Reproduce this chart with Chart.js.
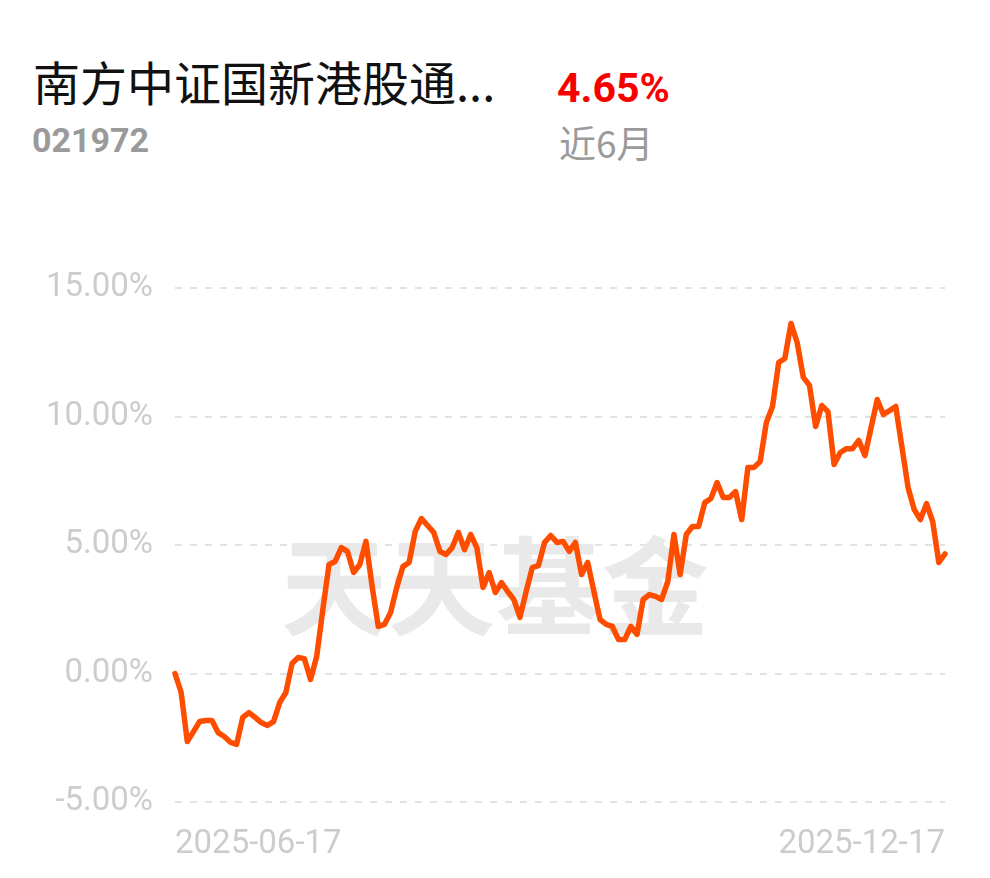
<!DOCTYPE html>
<html>
<head>
<meta charset="utf-8">
<script src="https://cdn.jsdelivr.net/npm/chart.js@4/dist/chart.umd.min.js"></script>
<style>
  html, body { margin: 0; padding: 0; background: #fff; }
  body { width: 990px; height: 878px; position: relative; overflow: hidden; }
  .t { position: absolute; white-space: nowrap; }
  #name { left: 33px; top: 57px; font: 47px/47px "Noto Sans CJK SC", sans-serif; color: #111; }
  #code { left: 32px; top: 123px; font: bold 34px/34px Roboto, sans-serif; color: #9a9a9a; }
  #ret { left: 557px; top: 68px; font: bold 41px/41px Roboto, sans-serif; color: #f80000; }
  #period { left: 559px; top: 124px; font: 37px/37px "Noto Sans CJK SC", sans-serif; color: #9a9a9a; }
  #box { position: absolute; left: 0; top: 240px; width: 990px; height: 638px; }
</style>
</head>
<body>
<div class="t" id="name">南方中证国新港股通...</div>
<div class="t" id="ret">4.65%</div>
<div class="t" id="code">021972</div>
<div class="t" id="period">近6月</div>
<div id="box"><canvas id="chart"></canvas></div>
<script>
// cumulative return, 2025-06-17 .. 2025-12-17 (%)
const returns = [
  0.00, -0.74, -2.65, -2.26, -1.87, -1.83, -1.83, -2.30, -2.45, -2.68,
  -2.76, -1.71, -1.52, -1.71, -1.91, -2.02, -1.87, -1.13, -0.74, 0.39,
  0.62, 0.58, -0.23, 0.66, 2.49, 4.24, 4.36, 4.90, 4.75, 3.93,
  4.24, 5.14, 3.39, 1.83, 1.91, 2.37, 3.35, 4.16, 4.32, 5.53,
  6.03, 5.76, 5.49, 4.75, 4.63, 4.90, 5.49, 4.82, 5.41, 4.90,
  3.35, 3.93, 3.15, 3.54, 3.19, 2.88, 2.18, 3.19, 4.12, 4.20,
  5.10, 5.37, 5.10, 5.14, 4.75, 5.10, 3.85, 4.32, 3.19, 2.10,
  1.91, 1.83, 1.32, 1.32, 1.83, 1.52, 2.88, 3.07, 3.00, 2.88,
  3.58, 5.41, 3.85, 5.41, 5.72, 5.72, 6.65, 6.81, 7.43, 6.85,
  6.85, 7.08, 5.99, 8.02, 8.02, 8.25, 9.77, 10.39, 12.10, 12.26,
  13.62, 12.88, 11.52, 11.21, 9.61, 10.43, 10.19, 8.13, 8.60, 8.75,
  8.75, 9.07, 8.48, 9.57, 10.66, 10.08, 10.23, 10.39, 8.83, 7.24,
  6.38, 5.99, 6.61, 5.91, 4.32, 4.65
];
const days = returns.map((_, i) => String(i));
const xTickLabels = ['2025-06-17', '2025-12-17'];
const yTicks = [-5, 0, 5, 10, 15];

// faint "天天基金" mark behind the line
const watermark = {
  id: 'watermark',
  beforeDatasetsDraw(chart) {
    const { ctx, chartArea: a } = chart;
    ctx.save();
    ctx.font = 'bold 107px "Noto Sans CJK SC", sans-serif';
    ctx.fillStyle = '#e9e9e9';
    ctx.textAlign = 'center';
    ctx.textBaseline = 'middle';
    const x = a.left + (495 - 175) / 770 * (a.right - a.left);
    const y = a.top + (586 - 288) / 514 * (a.bottom - a.top);
    ctx.fillText('天天基金', x, y);
    ctx.restore();
  }
};

new Chart(document.getElementById('chart'), {
  type: 'line',
  data: {
    labels: days,
    datasets: [{
      data: returns,
      borderColor: '#ff4d00',
      borderWidth: 5.5,
      pointRadius: 0,
      tension: 0,
      borderJoinStyle: 'round',
      borderCapStyle: 'round',
      clip: false
    }]
  },
  options: {
    responsive: true,
    maintainAspectRatio: false,
    animation: false,
    layout: { padding: { top: 48, right: 45, left: 0, bottom: 0 } },
    plugins: { legend: { display: false }, tooltip: { enabled: false } },
    scales: {
      x: {
        grid: { display: false, drawTicks: false },
        border: { display: false },
        afterFit(s) { s.height = 76; },
        ticks: {
          autoSkip: false,
          maxRotation: 0,
          align: 'inner',
          padding: 23,
          color: '#cccccc',
          font: { family: 'Roboto', size: 33 },
          callback(v, i) {
            if (i === 0) return xTickLabels[0];
            if (i === returns.length - 1) return xTickLabels[1];
            return null;
          }
        }
      },
      y: {
        min: -5,
        max: 15,
        afterFit(s) { s.width = 175; },
        afterBuildTicks(s) { s.ticks = yTicks.map(v => ({ value: v })); },
        border: { display: false, dash: [7, 8] },
        grid: { color: '#e2e2e2', lineWidth: 2, drawTicks: false },
        ticks: {
          padding: 22,
          color: '#cccccc',
          font: { family: 'Roboto', size: 33 },
          callback: v => v.toFixed(2) + '%'
        }
      }
    }
  },
  plugins: [watermark]
});
</script>
</body>
</html>
